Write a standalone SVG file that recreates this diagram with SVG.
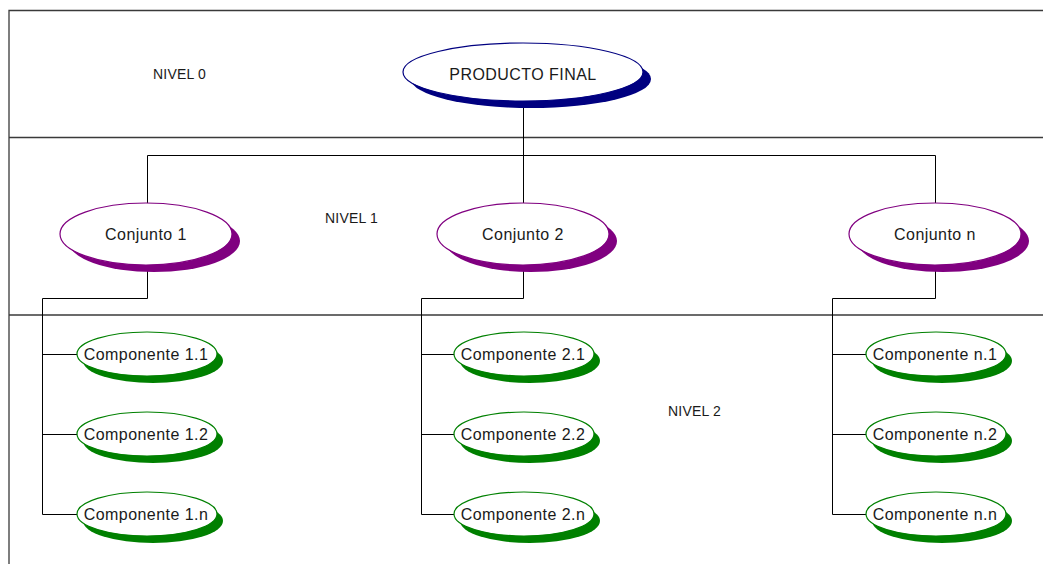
<svg xmlns="http://www.w3.org/2000/svg" width="1043" height="564" viewBox="0 0 1043 564">
  <style>
    .frame { stroke: #3a3a3a; stroke-width: 1.3; fill: none; }
    .conn { stroke: #000; stroke-width: 1; fill: none; }
    .lbl { font-family: "Liberation Sans", Arial, sans-serif; fill: #1a1a1a; text-anchor: middle; font-size: 16px; letter-spacing: 0.45px; }
    .lvl { font-family: "Liberation Sans", Arial, sans-serif; fill: #1a1a1a; font-size: 14px; letter-spacing: 0.2px; }
    .root-sh { fill: #000080; }
    .root { fill: #fff; stroke: #000080; stroke-width: 1.2; }
    .set-sh { fill: #800080; }
    .set { fill: #fff; stroke: #800080; stroke-width: 1.2; }
    .part-sh { fill: #008000; }
    .part { fill: #fff; stroke: #008000; stroke-width: 1.2; }
  </style>
  <rect width="1043" height="564" fill="#fff"/>

  <!-- level bands -->
  <g id="frame">
    <path class="frame" d="M9 564 V10.5 H1043"/>
    <path class="frame" d="M9 137.5 H1043"/>
    <path class="frame" d="M9 315 H1043"/>
  </g>

  <g id="levels">
    <text class="lvl" x="153" y="79">NIVEL 0</text>
    <text class="lvl" x="325" y="223">NIVEL 1</text>
    <text class="lvl" x="668" y="416">NIVEL 2</text>
  </g>

  <!-- connectors -->
  <g id="connectors">
    <path class="conn" d="M523.5 100 V155.5 M147.5 155.5 H935.5 M147.5 155.5 V205 M523.5 155.5 V205 M935.5 155.5 V205"/>
    <path class="conn" d="M147.5 262 V298.5 H42.5 V514.5 M42.5 354.5 H78 M42.5 434.5 H78 M42.5 514.5 H78"/>
    <path class="conn" d="M523.5 262 V298.5 H421.5 V514.5 M421.5 354.5 H455 M421.5 434.5 H455 M421.5 514.5 H455"/>
    <path class="conn" d="M935.5 262 V298.5 H832.5 V514.5 M832.5 354.5 H867 M832.5 434.5 H867 M832.5 514.5 H867"/>
  </g>

  <g id="producto-final">
    <ellipse class="root-sh" cx="531" cy="79" rx="120" ry="29"/>
    <ellipse class="root" cx="523" cy="72" rx="120" ry="29"/>
    <text class="lbl" x="523" y="80">PRODUCTO FINAL</text>
  </g>

  <g id="conjunto-1">
    <ellipse class="set-sh" cx="154" cy="241" rx="86" ry="31"/>
    <ellipse class="set" cx="146" cy="234" rx="86" ry="31"/>
    <text class="lbl" x="146" y="240">Conjunto 1</text>
  </g>
  <g id="conjunto-2">
    <ellipse class="set-sh" cx="531" cy="241" rx="86" ry="31"/>
    <ellipse class="set" cx="523" cy="234" rx="86" ry="31"/>
    <text class="lbl" x="523" y="240">Conjunto 2</text>
  </g>
  <g id="conjunto-n">
    <ellipse class="set-sh" cx="943" cy="241" rx="86" ry="31"/>
    <ellipse class="set" cx="935" cy="234" rx="86" ry="31"/>
    <text class="lbl" x="935" y="240">Conjunto n</text>
  </g>

  <g id="componente-1-1">
    <ellipse class="part-sh" cx="153" cy="361" rx="70" ry="22"/>
    <ellipse class="part" cx="147" cy="354" rx="70" ry="22"/>
    <text class="lbl" x="146" y="360">Componente 1.1</text>
  </g>
  <g id="componente-1-2">
    <ellipse class="part-sh" cx="153" cy="441" rx="70" ry="22"/>
    <ellipse class="part" cx="147" cy="434" rx="70" ry="22"/>
    <text class="lbl" x="146" y="440">Componente 1.2</text>
  </g>
  <g id="componente-1-n">
    <ellipse class="part-sh" cx="153" cy="521" rx="70" ry="22"/>
    <ellipse class="part" cx="147" cy="514" rx="70" ry="22"/>
    <text class="lbl" x="146" y="520">Componente 1.n</text>
  </g>

  <g id="componente-2-1">
    <ellipse class="part-sh" cx="530" cy="361" rx="70" ry="22"/>
    <ellipse class="part" cx="524" cy="354" rx="70" ry="22"/>
    <text class="lbl" x="523" y="360">Componente 2.1</text>
  </g>
  <g id="componente-2-2">
    <ellipse class="part-sh" cx="530" cy="441" rx="70" ry="22"/>
    <ellipse class="part" cx="524" cy="434" rx="70" ry="22"/>
    <text class="lbl" x="523" y="440">Componente 2.2</text>
  </g>
  <g id="componente-2-n">
    <ellipse class="part-sh" cx="530" cy="521" rx="70" ry="22"/>
    <ellipse class="part" cx="524" cy="514" rx="70" ry="22"/>
    <text class="lbl" x="523" y="520">Componente 2.n</text>
  </g>

  <g id="componente-n-1">
    <ellipse class="part-sh" cx="942" cy="361" rx="70" ry="22"/>
    <ellipse class="part" cx="936" cy="354" rx="70" ry="22"/>
    <text class="lbl" x="935" y="360">Componente n.1</text>
  </g>
  <g id="componente-n-2">
    <ellipse class="part-sh" cx="942" cy="441" rx="70" ry="22"/>
    <ellipse class="part" cx="936" cy="434" rx="70" ry="22"/>
    <text class="lbl" x="935" y="440">Componente n.2</text>
  </g>
  <g id="componente-n-n">
    <ellipse class="part-sh" cx="942" cy="521" rx="70" ry="22"/>
    <ellipse class="part" cx="936" cy="514" rx="70" ry="22"/>
    <text class="lbl" x="935" y="520">Componente n.n</text>
  </g>
</svg>
